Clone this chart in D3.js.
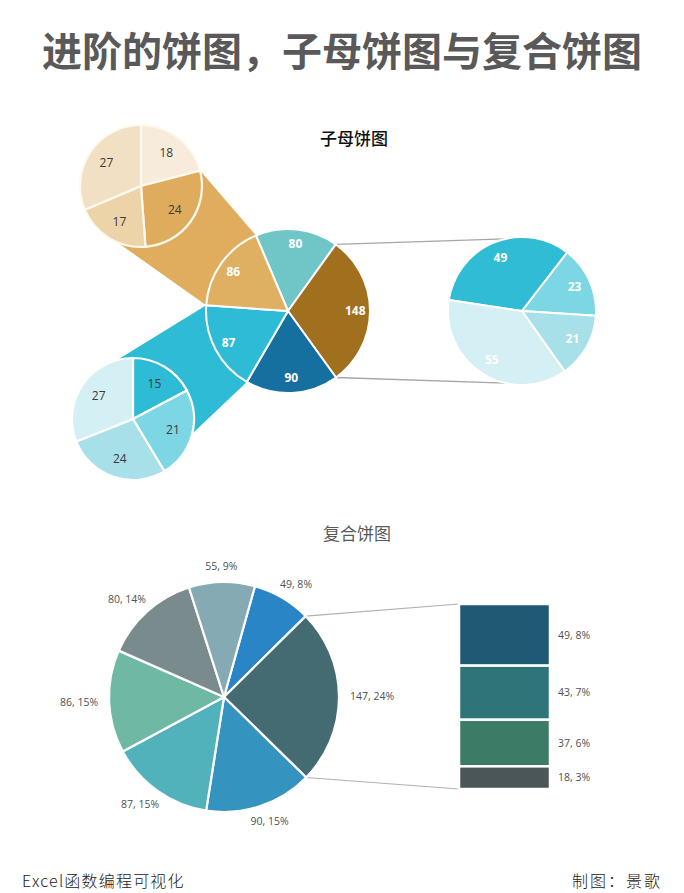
<!DOCTYPE html>
<html>
<head>
<meta charset="utf-8">
<script src="https://cdn.jsdelivr.net/npm/d3@7"></script>
<style>
  html, body { margin: 0; padding: 0; background: #fff; }
  svg { display: block; }
  .num  { font-family: "Open Sans", "Noto Sans", sans-serif; }
  .cjk  { font-family: "Noto Sans CJK SC", sans-serif; }
</style>
</head>
<body>
<svg id="chart" width="684" height="893"></svg>
<script>
// ── Data ─────────────────────────────────────────────────────────────────────
// 子母饼图: main pie, one exploded pie on the right, two sub pies on the left
const mainValues  = [80, 148, 90, 87, 86];
const rightValues = [49, 23, 21, 55];      // breakdown of 148
const tanValues   = [18, 24, 17, 27];      // breakdown of 86
const cyanValues  = [15, 21, 24, 27];      // breakdown of 87

// 复合饼图: pie-of-bar
const compValues = [49, 147, 90, 87, 86, 80, 55];
const compPct    = [8, 24, 15, 15, 15, 14, 9];
const barValues  = [49, 43, 37, 18];        // breakdown of 147
const barPct     = [8, 7, 6, 3];

// ── Palettes ─────────────────────────────────────────────────────────────────
const mainColors  = ["#70c6c7", "#a1701f", "#15709f", "#2dbbd5", "#e0b062"];
const rightColors = ["#2fbcd4", "#7dd6e4", "#a7e0e9", "#d4f0f4"];
const tanColors   = ["#f7ecdb", "#dfab5c", "#ecd3a8", "#f1e0c3"];
const cyanColors  = ["#2dbbd5", "#7dd6e4", "#a7e0e9", "#d4f0f4"];
const compColors  = ["#2a85c7", "#456b72", "#3594bf", "#52b2bc", "#6fb9a4", "#7a8b8e", "#86aab3"];
const barColors   = ["#1f5a74", "#2e7479", "#3c7c67", "#4a5657"];

const rad = a => a * Math.PI / 180;
const svg = d3.select("#chart");

// point on a circle, angle clockwise from 12 o'clock (same as d3.arc)
function onCircle(P, a, r = P.r) {
  return [P.cx + r * Math.sin(a), P.cy - r * Math.cos(a)];
}

function pieArcs(values, start) {
  return d3.pie().sort(null).value(d => d)
    .startAngle(rad(start)).endAngle(rad(start) + 2 * Math.PI)(values);
}

function drawPie(P, arcs, colors, opt) {
  const g = svg.append("g").attr("transform", `translate(${P.cx},${P.cy})`);
  const arc = d3.arc().innerRadius(0).outerRadius(P.r);
  g.selectAll("path").data(arcs).join("path")
    .attr("d", arc)
    .attr("fill", (d, i) => colors[i])
    .attr("stroke", opt.stroke || "#fff")
    .attr("stroke-width", opt.strokeWidth || 2)
    .attr("stroke-linejoin", "round");
  const lab = d3.arc().innerRadius(P.r * opt.labelR).outerRadius(P.r * opt.labelR);
  g.selectAll("text").data(arcs).join("text")
    .attr("class", "num")
    .attr("transform", d => `translate(${lab.centroid(d)})`)
    .attr("text-anchor", "middle")
    .attr("dy", "0.35em")
    .attr("font-size", opt.fontSize)
    .attr("font-weight", opt.fontWeight)
    .attr("fill", opt.textColor)
    .text(d => d.data);
  return g;
}

// ── Titles ───────────────────────────────────────────────────────────────────
svg.append("text").attr("class", "cjk")
  .attr("x", 342).attr("y", 66).attr("text-anchor", "middle")
  .attr("font-size", 40).attr("font-weight", "bold").attr("fill", "#595959")
  .text("进阶的饼图，子母饼图与复合饼图");

svg.append("text").attr("class", "cjk")
  .attr("x", 354).attr("y", 145).attr("text-anchor", "middle")
  .attr("font-size", 17).attr("font-weight", 500).attr("fill", "#111")
  .text("子母饼图");

svg.append("text").attr("class", "cjk")
  .attr("x", 357).attr("y", 540).attr("text-anchor", "middle")
  .attr("font-size", 17).attr("fill", "#595959")
  .text("复合饼图");

// ── 子母饼图 ─────────────────────────────────────────────────────────────────
const MAIN  = { cx: 288, cy: 311, r: 82 };
const RIGHT = { cx: 522, cy: 311, r: 74 };
const TAN   = { cx: 141, cy: 186, r: 61 };
const CYAN  = { cx: 133, cy: 419, r: 61 };

const mainArcs  = pieArcs(mainValues, -23);
const rightArcs = pieArcs(rightValues, -81.5);
const tanArcs   = pieArcs(tanValues, 0);
const cyanArcs  = pieArcs(cyanValues, 0);

// bands joining the sub pies to their parent slices
const s86 = mainArcs[4], s87 = mainArcs[3], s148 = mainArcs[1];
const tanBand = [
  onCircle(TAN, tanArcs[0].endAngle),
  onCircle(MAIN, s86.endAngle),
  onCircle(MAIN, s86.startAngle),
  onCircle(TAN, rad(203))
];
const cyanBand = [
  onCircle(CYAN, rad(-15)),
  onCircle(MAIN, s87.endAngle),
  onCircle(MAIN, s87.startAngle),
  onCircle(CYAN, rad(104))
];
svg.append("path").attr("d", d3.line()(tanBand) + "Z").attr("fill", "#e0ad5e");
svg.append("path").attr("d", d3.line()(cyanBand) + "Z").attr("fill", "#2dbbd5");

// leader lines to the exploded pie
const leaders = [
  [onCircle(MAIN, s148.startAngle), onCircle(RIGHT, rad(-13))],
  [onCircle(MAIN, s148.endAngle),   onCircle(RIGHT, rad(193))]
];
svg.selectAll("line.lead").data(leaders).join("line")
  .attr("class", "lead")
  .attr("x1", d => d[0][0]).attr("y1", d => d[0][1])
  .attr("x2", d => d[1][0]).attr("y2", d => d[1][1])
  .attr("stroke", "#a6a6a6").attr("stroke-width", 1.3);

drawPie(MAIN, mainArcs, mainColors,
  { labelR: 0.82, fontSize: 12, fontWeight: "bold", textColor: "#fff" });
drawPie(RIGHT, rightArcs, rightColors,
  { labelR: 0.78, fontSize: 12, fontWeight: "bold", textColor: "#fff" });
drawPie(TAN, tanArcs, tanColors,
  { labelR: 0.68, fontSize: 12, fontWeight: "normal", textColor: "#3a3a3a", stroke: "#fffaf0", strokeWidth: 2.2 });
drawPie(CYAN, cyanArcs, cyanColors,
  { labelR: 0.68, fontSize: 12, fontWeight: "normal", textColor: "#3a3a3a", strokeWidth: 2.2 });

// ── 复合饼图 ─────────────────────────────────────────────────────────────────
const COMP = { cx: 224, cy: 697, r: 115 };
const compArcs = pieArcs(compValues, 15.6);
const s147 = compArcs[1];

const BAR = { x: 459, w: 91, top: 604, bottom: 789 };
const yBar = d3.scaleLinear().domain([0, d3.sum(barValues)]).range([BAR.top, BAR.bottom]);
const barEnds = d3.cumsum(barValues);
const barSegs = barValues.map((v, i) => ({ v, p: barPct[i], y0: barEnds[i] - v, y1: barEnds[i] }));

const compLeaders = [
  [onCircle(COMP, s147.startAngle), [BAR.x, yBar(0)]],
  [onCircle(COMP, s147.endAngle),   [BAR.x, yBar(d3.sum(barValues))]]
];
svg.selectAll("line.clead").data(compLeaders).join("line")
  .attr("class", "clead")
  .attr("x1", d => d[0][0]).attr("y1", d => d[0][1])
  .attr("x2", d => d[1][0]).attr("y2", d => d[1][1])
  .attr("stroke", "#b0b0b0").attr("stroke-width", 1.1);

const cg = svg.append("g").attr("transform", `translate(${COMP.cx},${COMP.cy})`);
cg.selectAll("path").data(compArcs).join("path")
  .attr("d", d3.arc().innerRadius(0).outerRadius(COMP.r))
  .attr("fill", (d, i) => compColors[i])
  .attr("stroke", "#fff").attr("stroke-width", 2.2);

// outside-end labels
cg.selectAll("text").data(compArcs).join("text")
  .attr("class", "num")
  .attr("font-size", 10.5).attr("fill", "#505050")
  .attr("text-anchor", "middle").attr("dy", "0.35em")
  .text((d, i) => `${d.data}, ${compPct[i]}%`)
  .each(function (d) {
    const a = (d.startAngle + d.endAngle) / 2;
    const w = this.getComputedTextLength() / 2;
    const r = COMP.r + 9;
    const x = r * Math.sin(a) + Math.sin(a) * (w + 2);
    const y = -r * Math.cos(a) - Math.cos(a) * 7;
    d3.select(this).attr("x", x).attr("y", y);
  });

svg.selectAll("rect.seg").data(barSegs).join("rect")
  .attr("class", "seg")
  .attr("x", BAR.x).attr("width", BAR.w)
  .attr("y", d => yBar(d.y0)).attr("height", d => yBar(d.y1) - yBar(d.y0))
  .attr("fill", (d, i) => barColors[i])
  .attr("stroke", "#fff").attr("stroke-width", 2.5);

svg.selectAll("text.seg-lbl").data(barSegs).join("text")
  .attr("class", "seg-lbl num")
  .attr("x", BAR.x + BAR.w + 8)
  .attr("y", d => (yBar(d.y0) + yBar(d.y1)) / 2)
  .attr("dy", "0.35em")
  .attr("font-size", 10.5).attr("fill", "#505050")
  .text(d => `${d.v}, ${d.p}%`);

// ── Footer ───────────────────────────────────────────────────────────────────
svg.append("text").attr("class", "cjk")
  .attr("x", 22).attr("y", 887)
  .attr("font-size", 16).attr("font-weight", 300).attr("fill", "#222")
  .attr("letter-spacing", 1.2)
  .text("Excel函数编程可视化");

svg.append("text").attr("class", "cjk")
  .attr("x", 662).attr("y", 887).attr("text-anchor", "end")
  .attr("font-size", 16).attr("font-weight", 300).attr("fill", "#222")
  .attr("letter-spacing", 2)
  .text("制图：景歌");
</script>
</body>
</html>
